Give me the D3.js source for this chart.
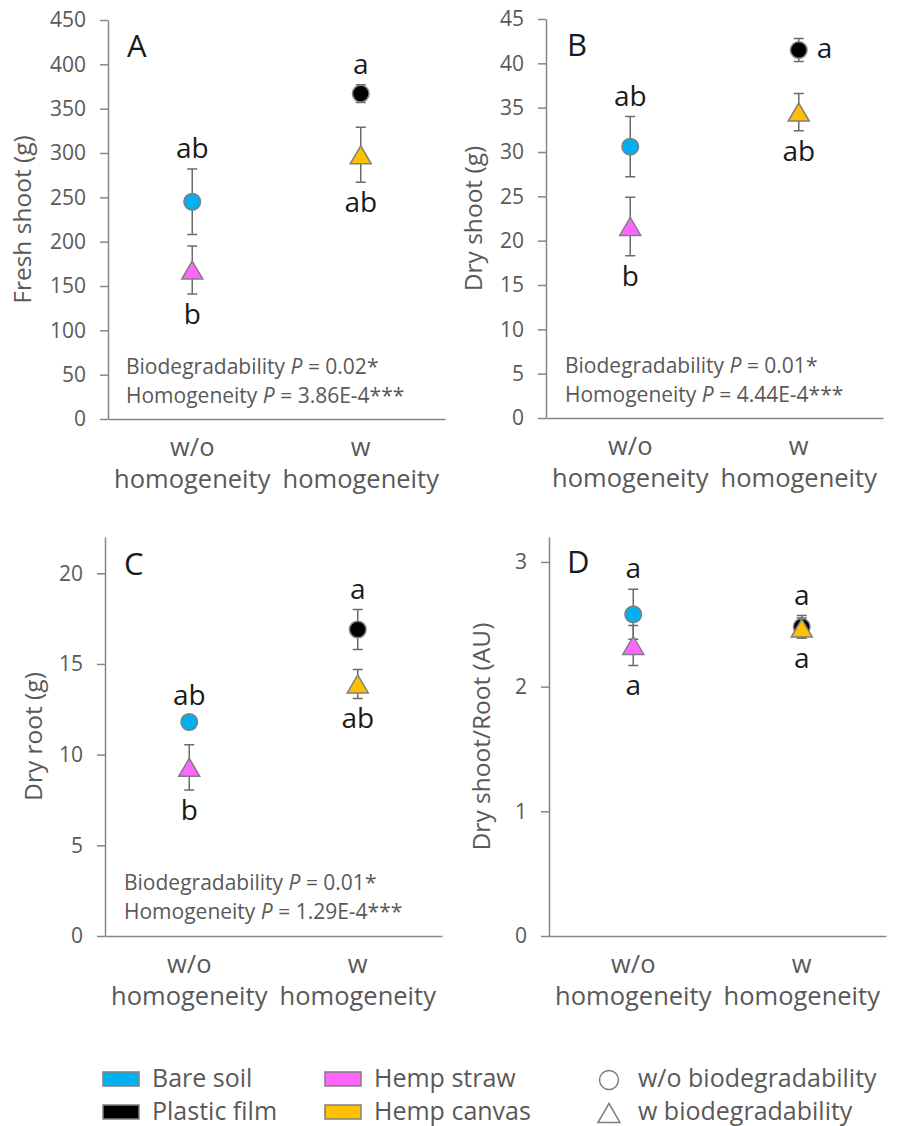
<!DOCTYPE html>
<html>
<head>
<meta charset="utf-8">
<script src="https://cdn.jsdelivr.net/npm/d3@7"></script>
<style>
  body { margin: 0; background: #fff; }
  svg { font-family: "Open Sans", sans-serif; }
</style>
</head>
<body>
<div class="chart"></div>
<script>
// Données
const groups = ['w/o homogeneity', 'w homogeneity'];
const treatments = ['Bare soil', 'Plastic film', 'Hemp straw', 'Hemp canvas'];
const treatmentGroup = ['w/o homogeneity', 'w homogeneity', 'w/o homogeneity', 'w homogeneity'];
const treatmentShape = ['circle', 'circle', 'triangle', 'triangle'];
const treatmentColors = ['#00B0F0', '#000000', '#FF66FF', '#FFC000'];

const freshShoot = [245, 367, 168, 298];
const freshShootErr = [37, 10, 27, 31];
const freshShootLetters = ['ab', 'a', 'b', 'ab'];
const freshShootTicks = [0, 50, 100, 150, 200, 250, 300, 350, 400, 450];
const freshShootStats = ['0.02*', '3.86E-4***'];

const dryShoot = [30.6, 41.5, 21.6, 34.5];
const dryShootErr = [3.4, 1.3, 3.3, 2.1];
const dryShootLetters = ['ab', 'a', 'b', 'ab'];
const dryShootTicks = [0, 5, 10, 15, 20, 25, 30, 35, 40, 45];
const dryShootStats = ['0.01*', '4.44E-4***'];

const dryRoot = [11.8, 16.9, 9.3, 13.9];
const dryRootErr = [0.35, 1.1, 1.25, 0.8];
const dryRootLetters = ['ab', 'a', 'b', 'ab'];
const dryRootTicks = [0, 5, 10, 15, 20];
const dryRootStats = ['0.01*', '1.29E-4***'];

const shootRoot = [2.58, 2.48, 2.33, 2.47];
const shootRootErr = [0.2, 0.09, 0.16, 0.08];
const shootRootLetters = ['a', 'a', 'a', 'a'];
const shootRootTicks = [0, 1, 2, 3];

const statsFactors = ['Biodegradability', 'Homogeneity'];
const shapeLegend = ['w/o biodegradability', 'w biodegradability'];

// Couleurs / styles
const grey = '#595959';
const lineGrey = '#868686';
const markerStroke = '#7f7f7f';

const width = 901;
const height = 1126;

const panels = [
  { key: 'A', title: 'Fresh shoot (g)', values: freshShoot, errors: freshShootErr,
    letters: freshShootLetters, letterPos: ['above', 'above', 'below', 'below'],
    ticks: freshShootTicks, max: 450, stats: freshShootStats,
    box: { left: 108, right: 445, top: 20, bottom: 419, titleX: 31, keyX: 127, keyY: 57, statsX: 126, statsY: 374 } },
  { key: 'B', title: 'Dry shoot (g)', values: dryShoot, errors: dryShootErr,
    letters: dryShootLetters, letterPos: ['above', 'right', 'below', 'below'],
    ticks: dryShootTicks, max: 45, stats: dryShootStats,
    box: { left: 546, right: 883, top: 19, bottom: 418, titleX: 482, keyX: 567, keyY: 56, statsX: 565, statsY: 373 } },
  { key: 'C', title: 'Dry root (g)', values: dryRoot, errors: dryRootErr,
    letters: dryRootLetters, letterPos: ['above', 'above', 'below', 'below'],
    ticks: dryRootTicks, max: 22, stats: dryRootStats,
    box: { left: 105, right: 442, top: 537, bottom: 936, titleX: 42, keyX: 124, keyY: 575, statsX: 124, statsY: 890 } },
  { key: 'D', title: 'Dry shoot/Root (AU)', values: shootRoot, errors: shootRootErr,
    letters: shootRootLetters, letterPos: ['above', 'above', 'below', 'below'],
    ticks: shootRootTicks, max: 3.2, stats: null,
    box: { left: 549, right: 886, top: 537, bottom: 936, titleX: 490, keyX: 567, keyY: 573 } }
];

const svg = d3.select('.chart')
  .append('svg')
  .attr('width', width)
  .attr('height', height);

// Triangle centré sur sa boîte englobante
const triPath = (w, h) => `M0,${-h / 2}L${w / 2},${h / 2}L${-w / 2},${h / 2}Z`;

function drawPanel(p) {
  const b = p.box;
  const g = svg.append('g');

  const x = d3.scalePoint()
    .domain(groups)
    .range([b.left, b.right])
    .padding(0.5);

  const y = d3.scaleLinear()
    .domain([0, p.max])
    .range([b.bottom, b.top]);

  // Axe vertical
  g.append('g')
    .attr('transform', `translate(${b.left},0)`)
    .call(d3.axisLeft(y).tickValues(p.ticks).tickFormat(d3.format('~g'))
      .tickSize(8).tickSizeOuter(0).tickPadding(14))
    .call(a => a.select('.domain').attr('stroke', lineGrey).attr('stroke-width', 1.5))
    .call(a => a.selectAll('.tick line').attr('stroke', lineGrey).attr('stroke-width', 1.5))
    .call(a => a.selectAll('.tick text')
      .attr('fill', grey).style('font-size', '21px').style('font-family', '"Open Sans", sans-serif'));

  // Axe horizontal
  g.append('g')
    .attr('transform', `translate(0,${b.bottom})`)
    .call(d3.axisBottom(x).tickSize(0).tickSizeOuter(0).tickFormat(''))
    .call(a => a.select('.domain').attr('stroke', lineGrey).attr('stroke-width', 1.5));

  // Libellés de catégories sur deux lignes
  const cat = g.append('g')
    .attr('fill', grey)
    .attr('text-anchor', 'middle')
    .style('font-size', '25.5px');
  groups.forEach(d => {
    const parts = d.split(' ');
    cat.append('text').attr('x', x(d)).attr('y', b.bottom + 37).text(parts[0]);
    cat.append('text').attr('x', x(d)).attr('y', b.bottom + 69).text(parts[1]);
  });

  // Titre de l'axe
  g.append('text')
    .attr('transform', `translate(${b.titleX},${(b.top + b.bottom) / 2}) rotate(-90)`)
    .attr('text-anchor', 'middle')
    .attr('fill', grey)
    .style('font-size', '24.5px')
    .text(p.title);

  // Lettre du panneau
  g.append('text')
    .attr('x', b.keyX)
    .attr('y', b.keyY)
    .attr('fill', '#1a1a1a')
    .style('font-size', '31px')
    .text(p.key);

  const idx = d3.range(treatments.length);

  // Barres d'erreur
  const err = g.append('g')
    .attr('stroke', '#6b6b6b')
    .attr('stroke-width', 1.5);
  err.selectAll('path')
    .data(idx)
    .join('path')
    .attr('fill', 'none')
    .attr('d', i => {
      const cx = x(treatmentGroup[i]);
      const y1 = y(p.values[i] + p.errors[i]);
      const y0 = y(p.values[i] - p.errors[i]);
      return `M${cx - 5},${y1}H${cx + 5}M${cx},${y1}V${y0}M${cx - 5},${y0}H${cx + 5}`;
    });

  // Marqueurs
  g.append('g').selectAll('path')
    .data(idx)
    .join('path')
    .attr('transform', i => `translate(${x(treatmentGroup[i])},${y(p.values[i])})`)
    .attr('d', i => treatmentShape[i] === 'circle'
      ? d3.symbol(d3.symbolCircle, Math.PI * 8.3 * 8.3)()
      : triPath(21, 18))
    .attr('fill', i => treatmentColors[i])
    .attr('stroke', markerStroke)
    .attr('stroke-width', 1.5);

  // Lettres de significativité
  g.append('g')
    .attr('fill', '#1a1a1a')
    .style('font-size', '28px')
    .selectAll('text')
    .data(idx)
    .join('text')
    .attr('text-anchor', i => p.letterPos[i] === 'right' ? 'start' : 'middle')
    .attr('x', i => p.letterPos[i] === 'right' ? x(treatmentGroup[i]) + 18 : x(treatmentGroup[i]))
    .attr('y', i => {
      if (p.letterPos[i] === 'above') return y(p.values[i] + p.errors[i]) - 11;
      if (p.letterPos[i] === 'below') return y(p.values[i] - p.errors[i]) + 30;
      return y(p.values[i]) + 8;
    })
    .text(i => p.letters[i]);

  // Statistiques
  if (p.stats) {
    const st = g.append('g')
      .attr('fill', grey)
      .style('font-size', '21px');
    statsFactors.forEach((f, k) => {
      const t = st.append('text')
        .attr('x', b.statsX)
        .attr('y', b.statsY + k * 29);
      t.append('tspan').text(f + ' ');
      t.append('tspan').style('font-style', 'italic').text('P');
      t.append('tspan').text(' = ' + p.stats[k]);
    });
  }
}

panels.forEach(drawPanel);

// Légende
const legend = svg.append('g')
  .style('font-size', '25px')
  .attr('fill', grey);

const legendCols = [103, 325];
const legendRows = [1072, 1105];
treatments.forEach((t, i) => {
  const col = i < 2 ? 0 : 1;
  const row = i % 2;
  legend.append('rect')
    .attr('x', legendCols[col])
    .attr('y', legendRows[row])
    .attr('width', 36)
    .attr('height', 14)
    .attr('fill', treatmentColors[i])
    .attr('stroke', markerStroke)
    .attr('stroke-width', 1.5);
  legend.append('text')
    .attr('x', legendCols[col] + 49)
    .attr('y', legendRows[row] + 15)
    .text(t);
});

shapeLegend.forEach((t, k) => {
  legend.append('path')
    .attr('transform', `translate(609,${legendRows[k] + 8})`)
    .attr('d', k === 0 ? d3.symbol(d3.symbolCircle, Math.PI * 9.5 * 9.5)() : triPath(22, 19))
    .attr('fill', 'none')
    .attr('stroke', markerStroke)
    .attr('stroke-width', 1.5);
  legend.append('text')
    .attr('x', 638)
    .attr('y', legendRows[k] + 15)
    .text(t);
});
</script>
</body>
</html>
